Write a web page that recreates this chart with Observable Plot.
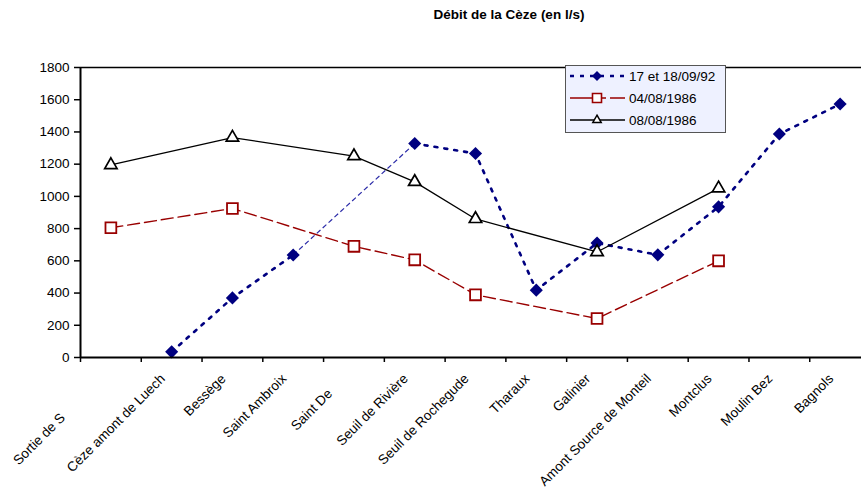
<!DOCTYPE html>
<html>
<head>
<meta charset="utf-8">
<script src="https://cdn.jsdelivr.net/npm/d3@7"></script>
<script src="https://cdn.jsdelivr.net/npm/@observablehq/plot@0.6"></script>
<style>
  body { margin: 0; background: #fff; overflow: hidden; }
  #wrap { position: relative; width: 861px; height: 492px; font-family: "Liberation Sans", Arial, sans-serif; color: #000; }
  #title { position: absolute; top: 7px; left: 0; width: 861px; box-sizing: border-box; padding-left: 157px; text-align: center; font-weight: bold; font-size: 13.5px; }
  #legend { position: absolute; left: 565px; top: 65px; width: 161px; height: 68px; box-sizing: border-box; border: 1px solid #555; background: #eef1ff; font-size: 13.5px; padding-top: 0; }
  #legend .row { display: flex; align-items: center; height: 22px; }
  #legend .row:first-child { margin-top: -1px; }
  #legend svg { display: block; }
</style>
</head>
<body>
<div id="wrap">
  <div id="chart"></div>
  <div id="title"></div>
  <div id="legend"></div>
</div>
<script>
// Débit de la Cèze, stations de l'amont vers l'aval (l/s)
const chartTitle = "Débit de la Cèze (en l/s)";
const stations = [
  "Sortie de S", "Cèze amont de Luech", "Bessège", "Saint Ambroix", "Saint De",
  "Seuil de Rivière", "Seuil de Rochegude", "Tharaux", "Galinier",
  "Amont Source de Monteil", "Montclus", "Moulin Bez", "Bagnols"
];
const seriesNames = ["17 et 18/09/92", "04/08/1986", "08/08/1986"];
const flowSep1992 = [null, 35, 370, 636, null, 1328, 1266, 418, 710, 637, 935, 1387, 1573];
const flowAug04 = [805, null, 925, null, 690, 606, 389, null, 242, null, 600, null, null];
const flowAug08 = [1195, null, 1365, null, 1250, 1090, 860, null, 655, null, 1050, null, null];
const yTicks = [0, 200, 400, 600, 800, 1000, 1200, 1400, 1600, 1800];

const FONT = '"Liberation Sans", Arial, sans-serif';
const BLUE = "#000080", RED = "#990000", BLACK = "#000";

const rows = vals => vals.map((v, i) => ({i, v}));
const defined = vals => rows(vals).filter(d => d.v != null);

// Bridges drawn across missing stations of the 1992 series
function bridges(vals) {
  const pts = defined(vals), out = [];
  for (let k = 1; k < pts.length; k++) {
    if (pts[k].i - pts[k - 1].i > 1) out.push({x1: pts[k - 1].i, y1: pts[k - 1].v, x2: pts[k].i, y2: pts[k].v});
  }
  return out;
}

// Category boundaries carry the x tick marks
const boundaries = d3.range(-0.5, stations.length, 1);

// Labels cut short are pushed down-left along their slant
const cutShift = {"Sortie de S": 39, "Saint De": 15};
const labelGroups = d3.groups(stations.map((s, i) => ({s, i})), d => cutShift[d.s] || 0);

const plot = Plot.plot({
  width: 861,
  height: 492,
  marginLeft: 80,
  marginRight: -9,
  marginTop: 67,
  marginBottom: 135,
  style: {fontFamily: FONT, fontSize: "13.5px", background: "#fff", color: "#000", overflow: "visible"},
  x: {type: "linear", domain: [-0.5, stations.length - 0.5]},
  y: {domain: [0, 1800]},
  marks: [
    Plot.ruleY([1800], {stroke: BLACK, strokeWidth: 1.5}),
    Plot.axisY({ticks: yTicks, tickFormat: d => String(d), tickSize: 6, tickPadding: 5, label: null, fontSize: 13.5, stroke: BLACK, strokeWidth: 1.5}),
    Plot.axisX({ticks: boundaries, tickSize: 5, tickFormat: () => "", label: null, stroke: BLACK, strokeWidth: 1.5}),
    ...labelGroups.map(([shift, g]) => Plot.text(g, {
      x: "i", y: () => 0, text: "s",
      rotate: -45, textAnchor: "end", lineAnchor: "middle",
      dx: -9 - shift, dy: 19 + shift,
      fontSize: 13.5, fill: "#000"
    })),

    // 17 et 18/09/92
    Plot.link(bridges(flowSep1992), {x1: "x1", y1: "y1", x2: "x2", y2: "y2", stroke: "#2b2ba8", strokeWidth: 1.2, strokeDasharray: "5,3"}),
    Plot.line(rows(flowSep1992), {x: "i", y: "v", stroke: BLUE, strokeWidth: 2.6, strokeDasharray: "3,7"}),
    // 04/08/1986
    Plot.line(defined(flowAug04), {x: "i", y: "v", stroke: RED, strokeWidth: 1.4, strokeDasharray: "12,5"}),
    // 08/08/1986
    Plot.line(defined(flowAug08), {x: "i", y: "v", stroke: BLACK, strokeWidth: 1.3}),

    Plot.dot(defined(flowSep1992), {x: "i", y: "v", symbol: "diamond2", r: 5.9, fill: BLUE, stroke: "none"}),
    Plot.dot(defined(flowAug04), {x: "i", y: "v", symbol: "square", r: 6.1, fill: "#fff", stroke: RED, strokeWidth: 1.8}),
    Plot.dot(defined(flowAug08), {x: "i", y: "v", symbol: "triangle", r: 4.6, fill: "#fff", stroke: BLACK, strokeWidth: 1.7}),

    // axis lines on top
    Plot.ruleY([0], {stroke: BLACK, strokeWidth: 2}),
    Plot.ruleX([-0.5], {stroke: BLACK, strokeWidth: 2})
  ]
});
document.getElementById("chart").append(plot);
document.getElementById("title").textContent = chartTitle;

// Legend
const legendStyles = [
  {stroke: BLUE, width: 2.4, dash: "4,6", symbol: d3.symbolDiamond2, size: 64, fill: BLUE, mstroke: "none", mwidth: 0},
  {stroke: RED, width: 1.4, dash: "22,4,10,4", symbol: d3.symbolSquare, size: 81, fill: "#fff", mstroke: RED, mwidth: 1.6},
  {stroke: BLACK, width: 1.3, dash: null, symbol: d3.symbolTriangle, size: 30, fill: "#fff", mstroke: BLACK, mwidth: 1.5}
];
const legend = d3.select("#legend");
seriesNames.forEach((name, k) => {
  const st = legendStyles[k];
  const row = legend.append("div").attr("class", "row");
  const svg = row.append("svg").attr("width", 63).attr("height", 22);
  svg.append("line").attr("x1", 4).attr("x2", 59).attr("y1", 11).attr("y2", 11)
    .attr("stroke", st.stroke).attr("stroke-width", st.width).attr("stroke-dasharray", st.dash);
  svg.append("path").attr("transform", "translate(31,11)")
    .attr("d", d3.symbol(st.symbol, st.size)())
    .attr("fill", st.fill).attr("stroke", st.mstroke).attr("stroke-width", st.mwidth);
  row.append("span").text(name);
});
</script>
</body>
</html>
